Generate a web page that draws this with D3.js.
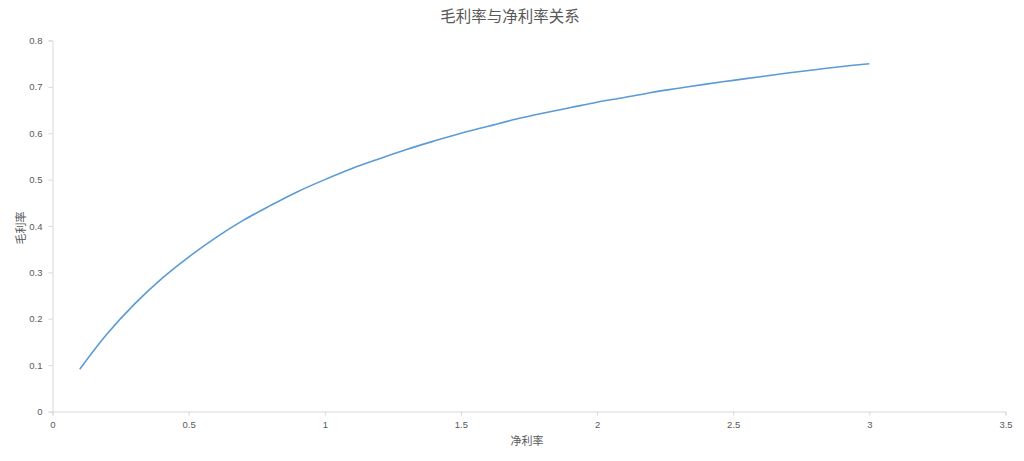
<!DOCTYPE html>
<html>
<head>
    <meta charset="utf-8">
    <script src="https://d3js.org/d3.v7.min.js"></script>
    <style>
        body { margin: 0; background: #fff; }
        text { font-family: "Noto Sans CJK SC", "Liberation Sans", sans-serif; }
    </style>
</head>
<body>
<script type="text/javascript">
    // 数据
    const netRate = [0.1, 0.2, 0.3, 0.4, 0.5, 0.6, 0.7, 0.8, 0.9, 1.0,
                     1.1, 1.2, 1.3, 1.4, 1.5, 1.6, 1.7, 1.8, 1.9, 2.0,
                     2.1, 2.2, 2.3, 2.4, 2.5, 2.6, 2.7, 2.8, 2.9, 3.0];
    const grossRate = [0.091, 0.167, 0.231, 0.286, 0.333, 0.375, 0.412, 0.444, 0.474, 0.5,
                       0.524, 0.545, 0.565, 0.583, 0.6, 0.615, 0.63, 0.643, 0.655, 0.667,
                       0.677, 0.688, 0.697, 0.706, 0.714, 0.722, 0.73, 0.737, 0.744, 0.75];
    const xTicks = [0, 0.5, 1, 1.5, 2, 2.5, 3, 3.5];
    const yTicks = [0, 0.1, 0.2, 0.3, 0.4, 0.5, 0.6, 0.7, 0.8];

    let width = 1024, height = 461;
    let margin = {left: 52.5, right: 18.5, top: 40.5, bottom: 49.5};

    let svg = d3.select("body").append("svg")
        .attr("width", width)
        .attr("height", height);

    let x = d3.scaleLinear().domain([0, 3.5]).range([margin.left, width - margin.right]);
    let y = d3.scaleLinear().domain([0, 0.8]).range([height - margin.bottom, margin.top]);

    let xAxis = svg.append("g")
        .attr("transform", `translate(0,${height - margin.bottom})`)
        .call(d3.axisBottom(x).tickValues(xTicks).tickSize(4).tickPadding(6).tickFormat(d3.format("")));
    let yAxis = svg.append("g")
        .attr("transform", `translate(${margin.left},0)`)
        .call(d3.axisLeft(y).tickValues(yTicks).tickSize(4).tickPadding(6).tickFormat(d3.format("")));

    [xAxis, yAxis].forEach(g => {
        g.select(".domain").attr("stroke", "#d9d9d9");
        g.selectAll(".tick line").attr("stroke", "#d9d9d9");
        g.selectAll(".tick text")
            .attr("fill", "#595959")
            .style("font-size", "9.5px")
            .style("font-family", "'Liberation Sans', sans-serif");
    });

    let pts = netRate.map((d, i) => [d, grossRate[i]]);
    svg.append("path")
        .attr("d", d3.line().x(d => x(d[0])).y(d => y(d[1])).curve(d3.curveCatmullRom)(pts))
        .attr("fill", "none")
        .attr("stroke", "#5b9bd5")
        .attr("stroke-width", 1.6);

    svg.append("text")
        .attr("x", 510).attr("y", 22)
        .attr("text-anchor", "middle")
        .attr("fill", "#595959")
        .style("font-size", "15.5px")
        .text("毛利率与净利率关系");

    svg.append("text")
        .attr("transform", "translate(25,228) rotate(-90)")
        .attr("text-anchor", "middle")
        .attr("fill", "#595959")
        .style("font-size", "11px")
        .text("毛利率");

    svg.append("text")
        .attr("x", 527).attr("y", 445)
        .attr("text-anchor", "middle")
        .attr("fill", "#595959")
        .style("font-size", "11px")
        .text("净利率");
</script>
</body>
</html>
